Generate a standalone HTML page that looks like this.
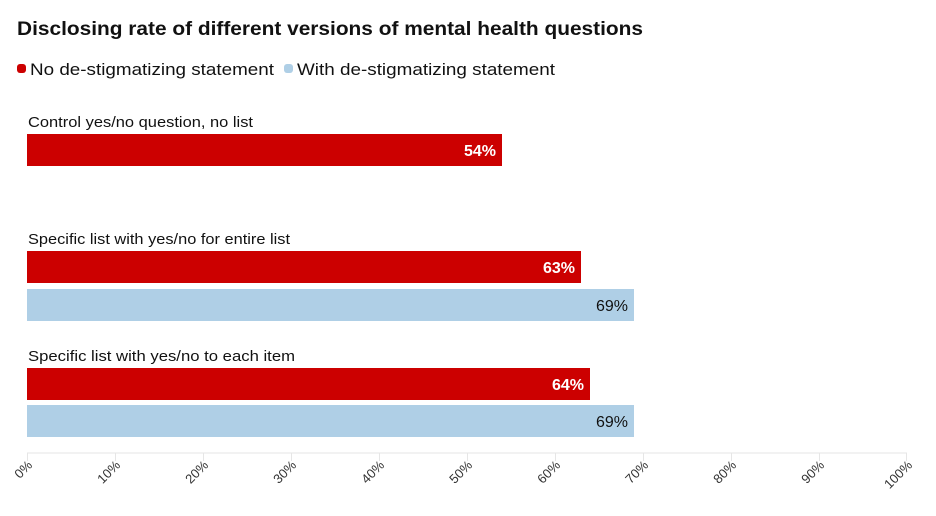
<!DOCTYPE html>
<html><head><meta charset="utf-8"><style>
body{margin:0;background:#fff;}
svg{display:block;font-family:"Liberation Sans",sans-serif;}
</style></head><body>
<svg width="936" height="516" viewBox="0 0 936 516">
<text x="17" y="35" font-size="19" font-weight="bold" fill="#111" textLength="626" lengthAdjust="spacingAndGlyphs">Disclosing rate of different versions of mental health questions</text>
<rect x="17" y="64" width="9" height="9" rx="3" fill="#cc0000"/>
<text x="30" y="75" font-size="17" fill="#111" textLength="244" lengthAdjust="spacingAndGlyphs">No de-stigmatizing statement</text>
<rect x="284" y="64" width="9" height="9" rx="3" fill="#afcfe6"/>
<text x="297" y="75" font-size="17" fill="#111" textLength="258" lengthAdjust="spacingAndGlyphs">With de-stigmatizing statement</text>
<g font-size="15" fill="#111">
<text x="28" y="127" textLength="225" lengthAdjust="spacingAndGlyphs">Control yes/no question, no list</text>
<text x="28" y="244" textLength="262" lengthAdjust="spacingAndGlyphs">Specific list with yes/no for entire list</text>
<text x="28" y="361" textLength="267" lengthAdjust="spacingAndGlyphs">Specific list with yes/no to each item</text>
</g>
<rect x="27" y="134" width="475" height="32" fill="#cc0000"/>
<rect x="27" y="251" width="554" height="32" fill="#cc0000"/>
<rect x="27" y="289" width="607" height="32" fill="#afcfe6"/>
<rect x="27" y="368" width="563" height="32" fill="#cc0000"/>
<rect x="27" y="405" width="607" height="32" fill="#afcfe6"/>
<g font-size="16" text-anchor="end">
<text x="496" y="156" fill="#fff" font-weight="bold">54%</text>
<text x="575" y="273" fill="#fff" font-weight="bold">63%</text>
<text x="628" y="311" fill="#111">69%</text>
<text x="584" y="390" fill="#fff" font-weight="bold">64%</text>
<text x="628" y="427" fill="#111">69%</text>
</g>
<line x1="27" y1="453" x2="907" y2="453" stroke="#e6e6e6" stroke-width="1"/>
<g stroke="#e6e6e6">
<line x1="27.5" y1="453" x2="27.5" y2="461"/><line x1="115.5" y1="453" x2="115.5" y2="461"/><line x1="203.5" y1="453" x2="203.5" y2="461"/><line x1="291.5" y1="453" x2="291.5" y2="461"/><line x1="379.5" y1="453" x2="379.5" y2="461"/><line x1="467.5" y1="453" x2="467.5" y2="461"/><line x1="555.5" y1="453" x2="555.5" y2="461"/><line x1="643.5" y1="453" x2="643.5" y2="461"/><line x1="731.5" y1="453" x2="731.5" y2="461"/><line x1="819.5" y1="453" x2="819.5" y2="461"/><line x1="906.5" y1="453" x2="906.5" y2="461"/>
</g>
<g font-size="13" fill="#333" text-anchor="end">
<text transform="translate(33,466) rotate(-45)">0%</text>
<text transform="translate(121,466) rotate(-45)">10%</text>
<text transform="translate(209,466) rotate(-45)">20%</text>
<text transform="translate(297,466) rotate(-45)">30%</text>
<text transform="translate(385,466) rotate(-45)">40%</text>
<text transform="translate(473,466) rotate(-45)">50%</text>
<text transform="translate(561,466) rotate(-45)">60%</text>
<text transform="translate(649,466) rotate(-45)">70%</text>
<text transform="translate(737,466) rotate(-45)">80%</text>
<text transform="translate(825,466) rotate(-45)">90%</text>
<text transform="translate(913,466) rotate(-45)">100%</text>
</g>
</svg>
</body></html>
